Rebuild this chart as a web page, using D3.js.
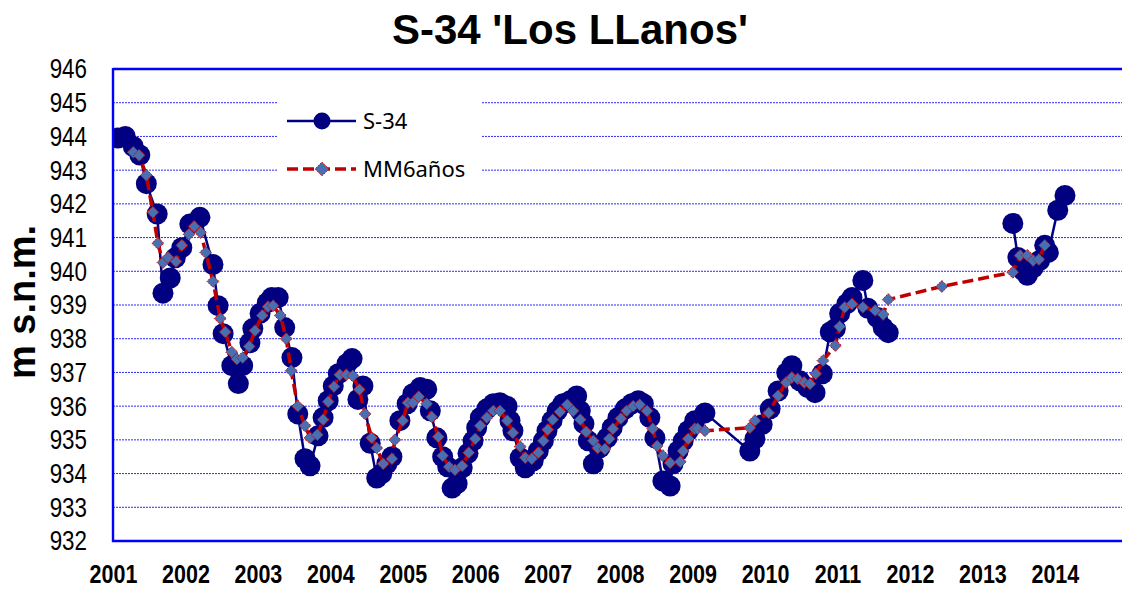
<!DOCTYPE html>
<html>
<head>
<meta charset="utf-8">
<script src="https://cdn.jsdelivr.net/npm/d3@7"></script>
<style>
  body { margin: 0; background: #fff; }
  svg { display: block; }
</style>
</head>
<body>
<svg id="chart"></svg>
<script>
// tick labels
const xTicks = [2001, 2002, 2003, 2004, 2005, 2006, 2007, 2008, 2009, 2010, 2011, 2012, 2013, 2014];
const yTicks = [932, 933, 934, 935, 936, 937, 938, 939, 940, 941, 942, 943, 944, 945, 946];

// S-34 piezometer level (m s.n.m.), decimal year; null = no measurements
const s34Dates = [
  2001.07, 2001.17, 2001.28, 2001.37, 2001.46, 2001.61, 2001.69, 2001.79, 2001.86, 2001.95,
  2002.06, 2002.20, 2002.38, 2002.45, 2002.52, 2002.64, 2002.73, 2002.79, 2002.89, 2002.93,
  2003.03, 2003.13, 2003.19, 2003.28, 2003.37, 2003.47, 2003.55, 2003.65, 2003.72, 2003.83,
  2003.90, 2003.97, 2004.04, 2004.11, 2004.23, 2004.30, 2004.38, 2004.45, 2004.55, 2004.64,
  2004.71, 2004.78, 2004.85, 2004.96, 2005.06, 2005.14, 2005.24, 2005.33, 2005.38, 2005.47,
  2005.55, 2005.62, 2005.68, 2005.75, 2005.82, 2005.90, 2005.97, 2006.02, 2006.07, 2006.16,
  2006.25, 2006.34, 2006.44, 2006.48, 2006.52, 2006.62, 2006.69, 2006.80, 2006.87, 2006.94,
  2006.99, 2007.06, 2007.13, 2007.21, 2007.31, 2007.40, 2007.45, 2007.50, 2007.56, 2007.63,
  2007.72, 2007.82, 2007.89, 2007.97, 2008.07, 2008.16, 2008.25, 2008.32, 2008.41, 2008.48,
  2008.59, 2008.69, 2008.73, 2008.80, 2008.87, 2008.94, 2009.03, 2009.17, 2009.79, 2009.86,
  2009.96, 2010.07, 2010.18, 2010.30, 2010.37, 2010.48, 2010.59, 2010.69, 2010.79, 2010.90,
  2010.97, 2011.03, 2011.13, 2011.20, 2011.35, 2011.42, 2011.55, 2011.63, 2011.70, 2012.50,
  2013.42, 2013.49, 2013.56, 2013.62, 2013.70, 2013.79, 2013.86, 2013.91, 2014.04, 2014.14
];
const s34Values = [
  943.95, 944.00, 943.70, 943.45, 942.60, 941.70, 939.35, 939.80, 940.40, 940.70,
  941.40, 941.60, 940.20, 938.98, 938.15, 937.20, 936.67, 937.20, 937.88, 938.30,
  938.75, 939.07, 939.22, 939.22, 938.33, 937.44, 935.77, 934.44, 934.23, 935.12,
  935.66, 936.16, 936.60, 936.96, 937.26, 937.41, 936.20, 936.60, 934.90, 933.87,
  934.00, 934.29, 934.50, 935.57, 936.07, 936.37, 936.55, 936.50, 935.86, 935.06,
  934.50, 934.20, 933.57, 933.70, 934.17, 934.60, 934.97, 935.36, 935.66, 935.92,
  936.07, 936.10, 936.00, 935.57, 935.27, 934.47, 934.17, 934.38, 934.67, 934.97,
  935.27, 935.57, 935.86, 936.07, 936.16, 936.30, 935.86, 935.48, 934.97, 934.29,
  934.76, 935.06, 935.36, 935.66, 935.92, 936.07, 936.16, 936.07, 935.66, 935.06,
  933.78, 933.63, 934.29, 934.67, 934.97, 935.27, 935.57, 935.80, 934.67, 935.03,
  935.45, 935.92, 936.45, 936.99, 937.20, 936.75, 936.55, 936.40, 936.96, 938.20,
  938.30, 938.75, 939.04, 939.22, 939.73, 938.90, 938.63, 938.33, 938.18, null,
  941.42, 940.41, 940.03, 939.88, 940.10, 940.32, 940.77, 940.56, 941.81, 942.25
];

// MM6años moving average
const mmDates = [
  2001.28, 2001.36, 2001.46, 2001.55, 2001.62, 2001.69, 2001.76, 2001.87, 2001.95, 2002.05,
  2002.12, 2002.21, 2002.28, 2002.38, 2002.48, 2002.55, 2002.64, 2002.71, 2002.79, 2002.88,
  2002.96, 2003.06, 2003.14, 2003.21, 2003.31, 2003.39, 2003.46, 2003.55, 2003.65, 2003.72,
  2003.82, 2003.90, 2003.97, 2004.05, 2004.13, 2004.22, 2004.31, 2004.40, 2004.48, 2004.57,
  2004.64, 2004.73, 2004.85, 2004.89, 2005.00, 2005.07, 2005.14, 2005.22, 2005.33, 2005.40,
  2005.49, 2005.55, 2005.64, 2005.72, 2005.82, 2005.91, 2006.00, 2006.07, 2006.16, 2006.25,
  2006.34, 2006.44, 2006.52, 2006.62, 2006.69, 2006.78, 2006.87, 2006.94, 2007.00, 2007.07,
  2007.17, 2007.27, 2007.35, 2007.45, 2007.53, 2007.63, 2007.69, 2007.79, 2007.85, 2007.90,
  2008.01, 2008.09, 2008.18, 2008.27, 2008.37, 2008.45, 2008.51, 2008.59, 2008.69, 2008.83,
  2008.87, 2008.94, 2009.03, 2009.07, 2009.17, 2009.79, 2009.86, 2010.05, 2010.18, 2010.29,
  2010.37, 2010.45, 2010.54, 2010.62, 2010.70, 2010.80, 2010.97, 2011.03, 2011.10, 2011.20,
  2011.35, 2011.52, 2011.63, 2011.70, 2012.44, 2013.42, 2013.52, 2013.62, 2013.70, 2013.78,
  2013.86
];
const mmValues = [
  943.53, 943.44, 942.85, 941.75, 940.83, 940.26, 940.41, 940.29, 940.77, 941.10,
  941.33, 941.15, 940.56, 939.70, 938.60, 938.20, 937.60, 937.40, 937.44, 937.77,
  938.24, 938.69, 938.95, 938.98, 938.69, 938.00, 937.05, 936.00, 935.42, 935.06,
  935.15, 935.60, 936.13, 936.58, 936.93, 936.93, 936.90, 936.49, 935.77, 935.06,
  934.76, 934.29, 934.44, 935.00, 935.57, 936.10, 936.10, 936.28, 936.07, 935.68,
  935.09, 934.53, 934.20, 934.11, 934.23, 934.62, 935.03, 935.42, 935.66, 935.86,
  935.86, 935.57, 935.21, 934.80, 934.47, 934.44, 934.62, 934.97, 935.30, 935.60,
  935.83, 936.04, 935.86, 935.60, 935.24, 934.97, 934.76, 934.73, 935.03, 935.33,
  935.63, 935.86, 936.00, 936.04, 935.86, 935.33, 934.82, 934.53, 934.32, 934.35,
  934.67, 935.03, 935.33, 935.33, 935.27, 935.36, 935.57, 935.80, 936.31, 936.70,
  936.85, 936.81, 936.70, 936.66, 936.96, 937.35, 937.80, 938.36, 938.93, 939.03,
  938.93, 938.84, 938.72, 939.16, 939.55, 939.97, 940.47, 940.47, 940.32, 940.35,
  940.77
];

const width = 1122, height = 589;
const plotLeft = 113, plotTop = 69, plotBottom = 541, plotRight = 1122;

const s34 = s34Dates.map((d, i) => ({ t: d, v: s34Values[i] }));
const mm = mmDates.map((d, i) => ({ t: d, v: mmValues[i] }));

const x = d3.scaleLinear().domain([2001, 2015]).range([plotLeft, plotLeft + 14 * 72.45]);
const y = d3.scaleLinear().domain([932, 946]).range([plotBottom, plotTop]);

const svg = d3.select("#chart")
  .attr("width", width)
  .attr("height", height)
  .attr("viewBox", [0, 0, width, height]);

svg.append("defs").append("clipPath").attr("id", "plot")
  .append("rect").attr("x", plotLeft).attr("y", 0).attr("width", plotRight - plotLeft).attr("height", height);

// title
svg.append("text")
  .attr("x", 570).attr("y", 44)
  .attr("text-anchor", "middle")
  .style("font", "bold 42px 'Liberation Sans', Arial, sans-serif")
  .text("S-34 'Los LLanos'");

// y label
svg.append("text")
  .attr("transform", "translate(35,302) rotate(-90)")
  .attr("text-anchor", "middle")
  .style("font", "bold 38px 'Liberation Sans', Arial, sans-serif")
  .text("m s.n.m.");

// gridlines
svg.append("g")
  .selectAll("line")
  .data(yTicks.filter(d => d !== 932 && d !== 946))
  .join("line")
  .attr("x1", plotLeft).attr("x2", plotRight)
  .attr("y1", d => y(d)).attr("y2", d => y(d))
  .attr("stroke", "#2a2aff")
  .attr("stroke-width", 1)
  .attr("stroke-dasharray", "2,1");

// y axis tick labels
const yAxis = svg.append("g")
  .attr("transform", `translate(${plotLeft},0)`)
  .call(d3.axisLeft(y).tickValues(yTicks).tickSize(0).tickFormat(d3.format("d")));
yAxis.select(".domain").remove();
yAxis.selectAll("text")
  .attr("x", -26 / 0.8)
  .attr("transform", "scale(0.8,1)")
  .attr("fill", "#000")
  .style("font", "28px 'Liberation Sans', Arial, sans-serif");

// x axis tick labels
const xAxis = svg.append("g")
  .attr("transform", `translate(0,${plotBottom})`)
  .call(d3.axisBottom(x).tickValues(xTicks).tickSize(0).tickPadding(24).tickFormat(d3.format("d")));
xAxis.select(".domain").remove();
xAxis.selectAll("text")
  .attr("transform", "scale(0.86,1)")
  .attr("fill", "#000")
  .style("font", "bold 25px 'Liberation Sans', Arial, sans-serif");

// series
const plot = svg.append("g").attr("clip-path", "url(#plot)");

const s34Line = d3.line()
  .defined(d => d.v !== null)
  .x(d => x(d.t)).y(d => y(d.v));

plot.append("path")
  .datum(s34)
  .attr("d", s34Line)
  .attr("fill", "none")
  .attr("stroke", "#000080")
  .attr("stroke-width", 2.5);

plot.append("g")
  .selectAll("circle")
  .data(s34.filter(d => d.v !== null))
  .join("circle")
  .attr("cx", d => x(d.t))
  .attr("cy", d => y(d.v))
  .attr("r", 10.5)
  .attr("fill", "#000080");

const mmLine = d3.line().x(d => x(d.t)).y(d => y(d.v));

plot.append("path")
  .datum(mm)
  .attr("d", mmLine)
  .attr("fill", "none")
  .attr("stroke", "#c00000")
  .attr("stroke-width", 3.5)
  .attr("stroke-dasharray", "11,5");

const diamond = d3.symbol().type(d3.symbolDiamond2).size(90);

plot.append("g")
  .selectAll("path")
  .data(mm)
  .join("path")
  .attr("d", diamond)
  .attr("transform", d => `translate(${x(d.t)},${y(d.v)})`)
  .attr("fill", "#4a6fb0")
  .attr("stroke", "#d00000")
  .attr("stroke-width", 1)
  .attr("stroke-dasharray", "2,1");

// axis lines
svg.append("line")
  .attr("x1", plotLeft).attr("x2", plotRight).attr("y1", plotTop).attr("y2", plotTop)
  .attr("stroke", "#0000ff").attr("stroke-width", 2.4);
svg.append("line")
  .attr("x1", plotLeft - 1).attr("x2", plotRight).attr("y1", plotBottom).attr("y2", plotBottom)
  .attr("stroke", "#0000ff").attr("stroke-width", 2.4);
svg.append("line")
  .attr("x1", plotLeft).attr("x2", plotLeft).attr("y1", plotTop - 1).attr("y2", plotBottom + 1)
  .attr("stroke", "#0000ff").attr("stroke-width", 2.4);

// legend
const legend = svg.append("g");
legend.append("rect")
  .attr("x", 277).attr("y", 92).attr("width", 205).attr("height", 98)
  .attr("fill", "#fff");

const lg1 = legend.append("g").attr("transform", "translate(0,121)");
lg1.append("line").attr("x1", 287).attr("x2", 356)
  .attr("stroke", "#000080").attr("stroke-width", 2.5);
lg1.append("circle").attr("cx", 322).attr("r", 8.5).attr("fill", "#000080");
lg1.append("text").attr("x", 363).attr("y", 7.5)
  .style("font", "22px 'Noto Sans', 'Open Sans', sans-serif")
  .text("S-34");

const lg2 = legend.append("g").attr("transform", "translate(0,169)");
lg2.append("line").attr("x1", 287).attr("x2", 356)
  .attr("stroke", "#c00000").attr("stroke-width", 3.5)
  .attr("stroke-dasharray", "11,5");
lg2.append("path").attr("d", d3.symbol().type(d3.symbolDiamond2).size(120))
  .attr("transform", "translate(322,0)")
  .attr("fill", "#4a6fb0")
  .attr("stroke", "#d00000")
  .attr("stroke-width", 1)
  .attr("stroke-dasharray", "2,1");
lg2.append("text").attr("x", 363).attr("y", 7.5)
  .style("font", "22px 'Noto Sans', 'Open Sans', sans-serif")
  .text("MM6años");
</script>
</body>
</html>
